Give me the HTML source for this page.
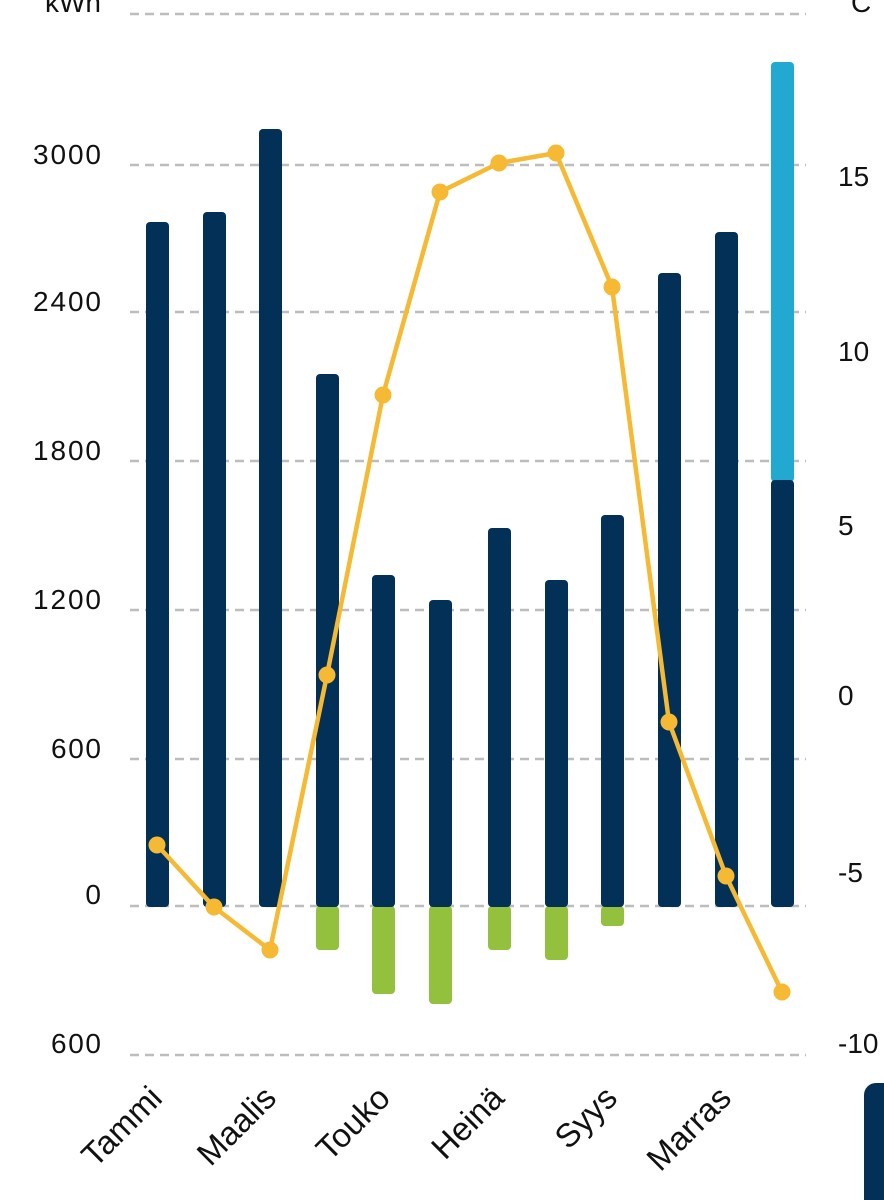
<!DOCTYPE html>
<html><head><meta charset="utf-8"><style>
html,body{margin:0;padding:0;background:#fff;}
svg{display:block;}
text{font-family:"Liberation Sans",sans-serif;font-size:28px;fill:#111;}
.xl{font-size:33px;}
</style></head><body>
<svg width="884" height="1200" viewBox="0 0 884 1200">
<g stroke="#bdbdbd" stroke-width="2.5" stroke-dasharray="9,6">
<line x1="130" y1="14" x2="806" y2="14"/>
<line x1="130" y1="165" x2="806" y2="165"/>
<line x1="130" y1="312" x2="806" y2="312"/>
<line x1="130" y1="461" x2="806" y2="461"/>
<line x1="130" y1="610" x2="806" y2="610"/>
<line x1="130" y1="759" x2="806" y2="759"/>
<line x1="130" y1="906" x2="806" y2="906"/>
<line x1="130" y1="1055" x2="806" y2="1055"/>
</g>
<g text-anchor="end">
<text x="101" y="12">kWh</text>
<text x="101" y="164" textLength="68">3000</text>
<text x="101" y="311" textLength="68">2400</text>
<text x="101" y="460" textLength="68">1800</text>
<text x="101" y="609" textLength="68">1200</text>
<text x="101" y="758" textLength="50">600</text>
<text x="101" y="904">0</text>
<text x="101" y="1053" textLength="50">600</text>
</g>
<g>
<text x="851" y="12">C</text>
<text x="838" y="186">15</text>
<text x="838" y="361">10</text>
<text x="838" y="535">5</text>
<text x="838" y="705">0</text>
<text x="838" y="882">-5</text>
<text x="838" y="1053">-10</text>
</g>
<g fill="#93c13e">
<rect x="316" y="906" width="23" height="44" rx="4"/>
<rect x="372" y="906" width="23" height="88" rx="4"/>
<rect x="429" y="906" width="23" height="98" rx="4"/>
<rect x="488" y="906" width="23" height="44" rx="4"/>
<rect x="545" y="906" width="23" height="54" rx="4"/>
<rect x="601" y="906" width="23" height="20" rx="4"/>
</g>
<rect x="771" y="62" width="23" height="420" rx="4" fill="#22a9d1"/>
<g fill="#023057">
<rect x="146" y="222" width="23" height="685" rx="4"/>
<rect x="203" y="212" width="23" height="695" rx="4"/>
<rect x="259" y="129" width="23" height="778" rx="4"/>
<rect x="316" y="374" width="23" height="533" rx="4"/>
<rect x="372" y="575" width="23" height="332" rx="4"/>
<rect x="429" y="600" width="23" height="307" rx="4"/>
<rect x="488" y="528" width="23" height="379" rx="4"/>
<rect x="545" y="580" width="23" height="327" rx="4"/>
<rect x="601" y="515" width="23" height="392" rx="4"/>
<rect x="658" y="273" width="23" height="634" rx="4"/>
<rect x="715" y="232" width="23" height="675" rx="4"/>
<rect x="771" y="480" width="23" height="427" rx="4"/>
<rect x="864" y="1083" width="40" height="140" rx="12"/>
</g>
<polyline fill="none" stroke="#f5b933" stroke-width="4.5" stroke-linejoin="round" points="157,845 214,907 270,950 327,675 383,395 440,192 499,163 556,153 612,287 669,722 726,876 782,992"/>
<g fill="#f5b933">
<circle cx="157" cy="845" r="8.5"/><circle cx="214" cy="907" r="8.5"/><circle cx="270" cy="950" r="8.5"/>
<circle cx="327" cy="675" r="8.5"/><circle cx="383" cy="395" r="8.5"/><circle cx="440" cy="192" r="8.5"/>
<circle cx="499" cy="163" r="8.5"/><circle cx="556" cy="153" r="8.5"/><circle cx="612" cy="287" r="8.5"/>
<circle cx="669" cy="722" r="8.5"/><circle cx="726" cy="876" r="8.5"/><circle cx="782" cy="992" r="8.5"/>
</g>
<g text-anchor="end">
<text class="xl" transform="translate(164,1100) rotate(-45)">Tammi</text>
<text class="xl" transform="translate(278,1100) rotate(-45)">Maalis</text>
<text class="xl" transform="translate(392,1100) rotate(-45)">Touko</text>
<text class="xl" transform="translate(506,1100) rotate(-45)">Heinä</text>
<text class="xl" transform="translate(619,1100) rotate(-45)">Syys</text>
<text class="xl" transform="translate(733,1100) rotate(-45)">Marras</text>
</g>
</svg>
</body></html>
